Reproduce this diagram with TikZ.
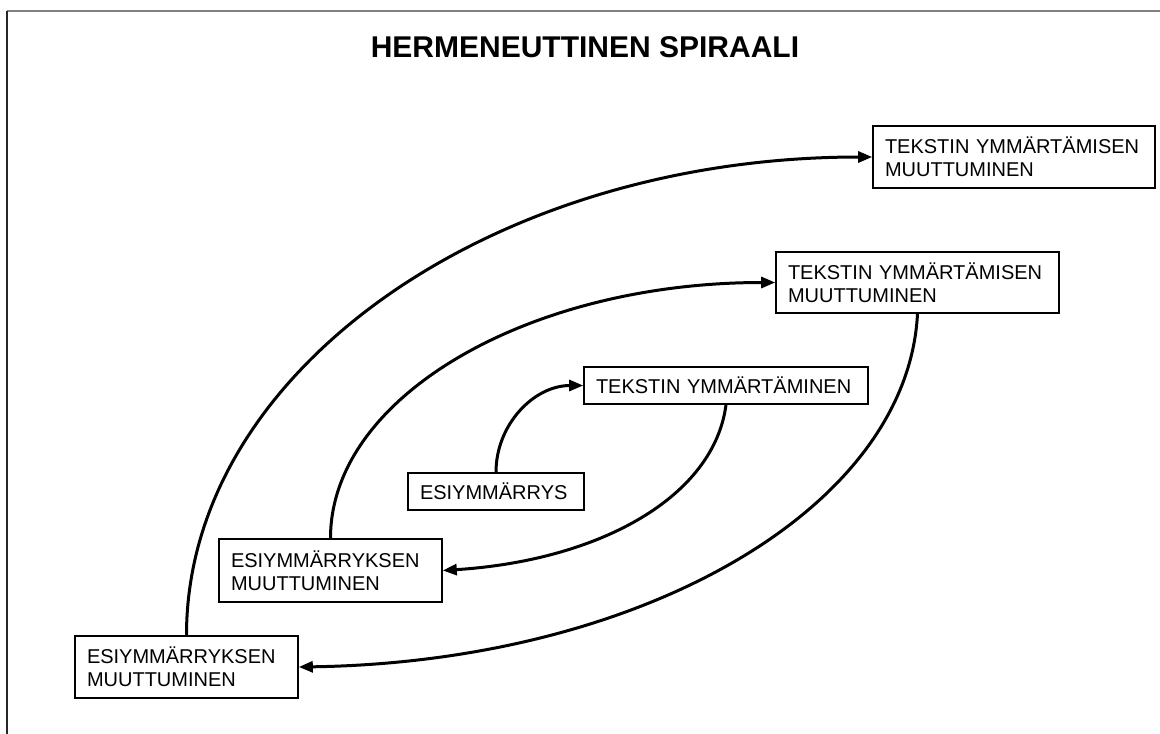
\documentclass[tikz,border=0pt]{standalone}
\usepackage{fontspec}
\setmainfont{Liberation Sans}
\usetikzlibrary{arrows.meta}
\begin{document}
\begin{tikzpicture}[x=1pt,y=-1pt,
  box/.style={draw=black, line width=1.6pt, rectangle, align=left,
    inner xsep=12pt, inner ysep=0pt, font=\fontsize{20}{23}\selectfont},
  link/.style={line width=3pt, -{Triangle[length=14pt,width=11pt]}},
  titletext/.style={font=\fontsize{30}{36}\selectfont\bfseries, anchor=base}
]
\useasboundingbox (0,0) rectangle (1160,734);
% page frame (top and left edges)
\draw[line width=2pt, draw=black!50] (7,11) -- (1160,11);
\draw[line width=1.5pt, draw=black!85] (7,11) -- (7,734);

% title
\node[titletext] (title) at (585,57) {HERMENEUTTINEN SPIRAALI};

% boxes
\node[box, text width=199pt, minimum height=62pt] (F) at (186.5,667) {ESIYMMÄRRYKSEN\\MUUTTUMINEN};
\node[box, text width=199pt, minimum height=63pt] (E) at (330.5,570.5) {ESIYMMÄRRYKSEN\\MUUTTUMINEN};
\node[box, text width=152pt, minimum height=37pt] (D) at (496,491.5) {ESIYMMÄRRYS};
\node[box, text width=260pt, minimum height=37pt] (C) at (726,385.5) {TEKSTIN YMMÄRTÄMINEN};
\node[box, text width=259pt, minimum height=61pt] (B) at (917.5,282.5) {TEKSTIN YMMÄRTÄMISEN\\MUUTTUMINEN};
\node[box, text width=258pt, minimum height=62pt] (A) at (1014,157) {TEKSTIN YMMÄRTÄMISEN\\MUUTTUMINEN};

% spiral connectors
\draw[link] (D.north) .. controls +(0,-48) and +(-49,0) .. (C.west);
\draw[link] (C.south) .. controls +(-12,92) and +(157,-10) .. (E.east);
\draw[link] (E.north) .. controls +(0,-142) and +(-246,0) .. (B.west);
\draw[link] (B.south) .. controls +(-10,195) and +(342,-5) .. (F.east);
\draw[link] (F.north) .. controls +(0,-265) and +(-379,0) .. (A.west);
\end{tikzpicture}
\end{document}
